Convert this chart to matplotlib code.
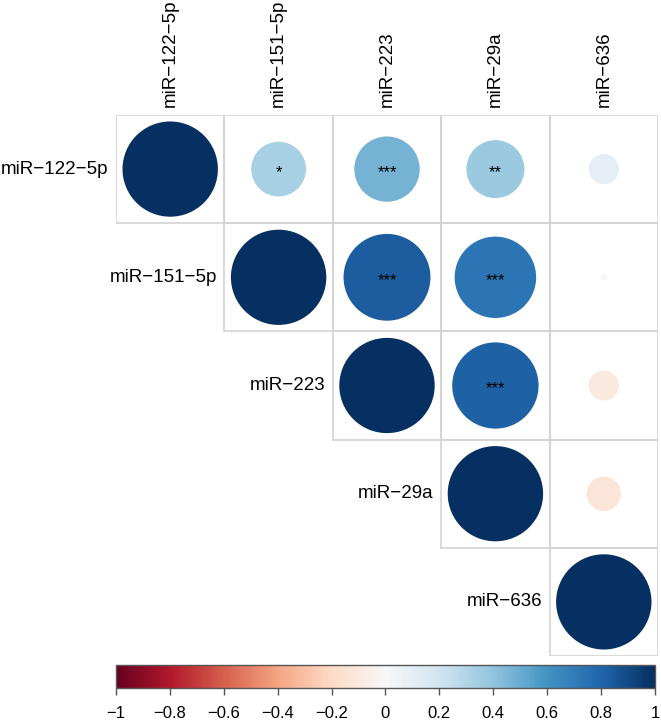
import numpy as np
import matplotlib
matplotlib.use("Agg")
import matplotlib.pyplot as plt
from matplotlib.patches import Circle, Rectangle

plt.rcParams['font.family'] = ['Liberation Sans', 'DejaVu Sans']

genes = ["miR\u2212122\u22125p", "miR\u2212151\u22125p", "miR\u2212223", "miR\u221229a", "miR\u2212636"]

# upper triangle correlations (row i, col j >= i)
corr = [
    [1.00, 0.33, 0.47, 0.37, 0.10],
    [None, 1.00, 0.83, 0.73, -0.005],
    [None, None, 1.00, 0.82, -0.10],
    [None, None, None, 1.00, -0.13],
    [None, None, None, None, 1.00],
]
stars = [
    ["", "*", "***", "**", ""],
    ["", "", "***", "***", ""],
    ["", "", "", "***", ""],
    ["", "", "", "", ""],
    ["", "", "", "", ""],
]
cbar_ticks = [-1, -0.8, -0.6, -0.4, -0.2, 0, 0.2, 0.4, 0.6, 0.8, 1]

W, H = 661, 726
fig = plt.figure(figsize=(W / 100, H / 100), dpi=100)
ax = fig.add_axes([116 / W, 1 - 656 / H, 542 / W, 541 / H])
cmap = plt.get_cmap("RdBu")
norm = matplotlib.colors.Normalize(-1, 1)

n = len(genes)
for i in range(n):
    for j in range(i, n):
        ax.add_patch(Rectangle((j, i), 1, 1, fill=False, edgecolor="#d3d3d3", lw=1.2))
        r = corr[i][j]
        ax.add_patch(Circle((j + 0.5, i + 0.5), 0.44 * np.sqrt(abs(r)),
                            facecolor=cmap(norm(r)), edgecolor="none"))
        if stars[i][j]:
            ax.text(j + 0.5, i + 0.53, stars[i][j], ha="center", va="center",
                    fontsize=12, color="black")
    ax.text(i - 0.07, i + 0.5, genes[i], ha="right", va="center", fontsize=13.5)
    ax.text(i + 0.5, -0.07, genes[i], ha="center", va="bottom", rotation=90, fontsize=13.5)

ax.set_xlim(0, n)
ax.set_ylim(n, 0)
ax.axis("off")

# colorbar
cax = fig.add_axes([116 / W, 1 - 688 / H, 539 / W, 23 / H])
sm = matplotlib.cm.ScalarMappable(norm=norm, cmap=cmap)
cb = fig.colorbar(sm, cax=cax, orientation="horizontal", ticks=cbar_ticks)
cb.outline.set_edgecolor("#555555")
cb.outline.set_linewidth(1)
cax.tick_params(length=5, width=1, color="#555555", labelsize=12, pad=8)
cax.set_xticklabels([f"{t:g}".replace("-", "\u2212") for t in cbar_ticks])

fig.savefig("out.png", dpi=100)
